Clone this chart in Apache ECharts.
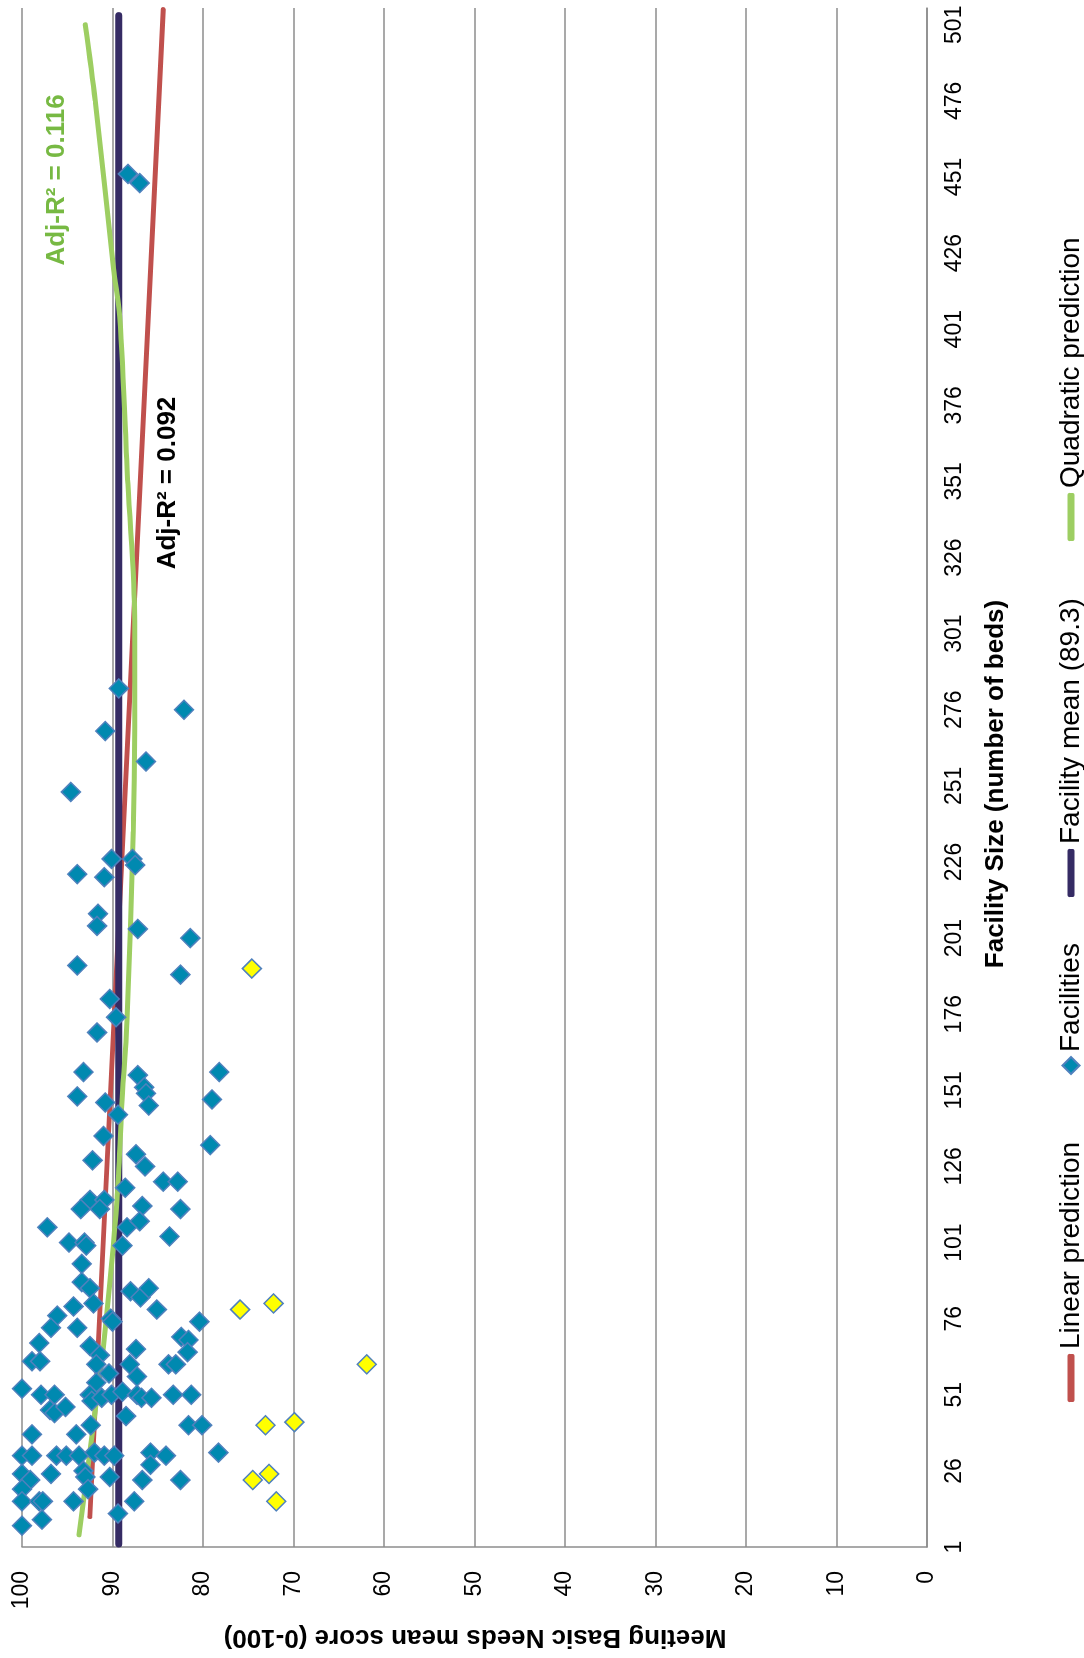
<!DOCTYPE html>
<html>
<head>
<meta charset="utf-8">
<script src="https://cdn.jsdelivr.net/npm/echarts@6/dist/echarts.min.js"></script>
<style>
html,body{margin:0;padding:0;background:#fff;overflow:hidden;width:1084px;height:1658px;}
#wrap{position:absolute;left:0;top:0;width:1658px;height:1084px;transform-origin:0 0;transform:translate(0px,1658px) rotate(-90deg);}
</style>
</head>
<body>
<div id="wrap"></div>
<script>
// ---- data ----
const bedTicks = [1, 26, 51, 76, 101, 126, 151, 176, 201, 226, 251, 276, 301, 326, 351, 376, 401, 426, 451, 476, 501];
const scoreTicks = [0, 10, 20, 30, 40, 50, 60, 70, 80, 90, 100];

const facilityBeds = [452, 449, 283, 276, 269, 259, 249,
  227, 227, 225, 222, 221, 209, 205, 204, 201, 192, 189, 181, 175,
  170, 157, 156, 157, 152, 150, 149, 148, 147, 146, 143, 136, 133, 128, 130, 126, 121, 121, 119, 115, 115,
  112, 112, 113, 112, 106, 106, 108, 103, 101, 101, 100, 100, 94, 88, 86, 85, 83, 86, 80, 81, 79, 77, 73, 76, 75, 75, 73, 68, 70, 69, 67, 64, 66, 65, 62, 62, 61, 61, 61, 61, 58, 57,
  55, 53, 51, 51, 51, 49, 50, 51, 52, 51, 50, 50, 51, 51, 46, 45, 47, 44, 41, 41, 41, 38, 38,
  31, 31, 31, 31, 31, 32, 31, 31, 32, 31, 32, 28, 25, 23, 25, 26, 24, 24, 23, 23, 20, 20, 16, 16, 16, 16, 16, 10, 12, 8];
const facilityScores = [88.3, 87.0, 89.3, 82.1, 90.8, 86.3, 94.6,
  90.1, 87.8, 87.5, 93.9, 90.9, 91.6, 91.7, 87.2, 81.4, 93.9, 82.5, 90.3, 89.6,
  91.7, 93.2, 87.2, 78.2, 86.5, 86.3, 93.9, 79.0, 90.8, 86.0, 89.4, 91.0, 79.2, 92.2, 87.4, 86.4, 84.4, 82.8, 88.6, 92.5, 90.9,
  93.5, 91.4, 86.7, 82.5, 97.2, 88.4, 87.0, 83.7, 94.8, 93.1, 92.9, 88.9, 93.4, 93.4, 92.5, 88.0, 86.9, 86.0, 94.3, 92.1, 85.1, 96.1, 96.8, 90.2, 90.0, 80.4, 93.9, 98.1, 82.4, 81.6, 92.5, 91.4, 87.4, 81.7, 98.9, 98.0, 91.8, 88.1, 83.8, 83.0, 90.4, 87.3,
  91.8, 100, 97.9, 96.4, 92.5, 92.3, 91.2, 90.1, 88.9, 87.3, 86.8, 85.7, 83.3, 81.3, 96.9, 96.4, 95.2, 88.5, 92.4, 81.6, 80.1, 98.9, 94.0,
  100, 98.9, 96.2, 95.1, 93.7, 92.0, 90.9, 89.8, 85.8, 84.1, 78.3, 85.8, 100, 99.1, 96.8, 93.2, 93.0, 90.3, 86.7, 82.5, 100, 92.7, 100, 98.1, 97.7, 94.3, 87.6, 97.8, 89.4, 100];

const highlightBeds = [191, 79, 81, 61, 41, 42, 23, 25, 16];
const highlightScores = [74.6, 75.9, 72.2, 61.9, 73.1, 69.9, 74.5, 72.7, 71.9];

const linearBeds = [11, 506];
const linearScores = [92.5, 84.4];

const meanBeds = [2, 504];
const meanScores = [89.3, 89.3];

const quadBeds = [5, 46, 67, 115, 145, 174, 236, 270, 305, 350, 405, 421, 476, 501];
const quadScores = [93.7, 91.9, 91.0, 89.5, 89.0, 88.4, 87.7, 87.55, 87.55, 88.3, 89.2, 89.9, 91.9, 93.0];

// ---- build ----
const pairs = (xs, ys) => xs.map((x, i) => [x, ys[i]]);
const FONT = '"Liberation Sans", Arial, sans-serif';
const C_RED = '#C0504D', C_NAVY = '#352B64', C_GREEN = '#9DCE62', C_BLUE = '#0089B0', C_EDGE = '#4F81BD';

const chart = echarts.init(document.getElementById('wrap'), null, {width: 1658, height: 1084});
const legendBase = {
  top: 1052, orient: 'horizontal', selectedMode: false, itemGap: 0,
  textStyle: {fontSize: 28, color: '#000', fontFamily: FONT}
};
chart.setOption({
  animation: false,
  backgroundColor: '#fff',
  grid: {left: 111, right: 8, top: 22, bottom: 157, containLabel: false},
  xAxis: {
    type: 'value', min: 1, max: 506.5,
    splitLine: {show: false},
    axisLine: {show: true, lineStyle: {color: '#8C8C8C', width: 1.5}},
    axisTick: {show: false},
    axisLabel: {customValues: bedTicks, fontSize: 23, color: '#000', fontFamily: FONT, margin: 16}
  },
  yAxis: {
    type: 'value', min: 0, max: 100, interval: 10,
    splitLine: {show: true, lineStyle: {color: '#8C8C8C', width: 1.5}},
    axisLine: {show: true, lineStyle: {color: '#8C8C8C', width: 1.5}},
    axisTick: {show: false},
    axisLabel: {fontSize: 23, color: '#000', fontFamily: FONT, margin: 24,
      formatter: v => scoreTicks.includes(v) ? String(v) : ''}
  },
  legend: [
    Object.assign({}, legendBase, {left: 251, itemWidth: 48, itemHeight: 7, data: [{name: 'Linear prediction', icon: 'roundRect'}]}),
    Object.assign({}, legendBase, {left: 578, itemWidth: 17, itemHeight: 17, data: [{name: 'Facilities', icon: 'diamond'}]}),
    Object.assign({}, legendBase, {left: 756, itemWidth: 48, itemHeight: 7, data: [{name: 'Facility mean (89.3)', icon: 'roundRect'}]}),
    Object.assign({}, legendBase, {left: 1112, itemWidth: 48, itemHeight: 7, data: [{name: 'Quadratic prediction', icon: 'roundRect'}]})
  ],
  graphic: [
    {type: 'text', x: 21, y: 475, rotation: Math.PI / 2,
      style: {text: 'Meeting Basic Needs mean score (0-100)', font: 'bold 26px ' + FONT, fill: '#000', align: 'center', verticalAlign: 'middle'}},
    {type: 'text', x: 874, y: 996,
      style: {text: 'Facility Size (number of beds)', font: 'bold 26px ' + FONT, fill: '#000', align: 'center', verticalAlign: 'middle'}},
    {type: 'text', x: 1478, y: 57,
      style: {text: 'Adj-R² = 0.116', font: 'bold 26px ' + FONT, fill: '#77B943', align: 'center', verticalAlign: 'middle'}},
    {type: 'text', x: 1175, y: 168,
      style: {text: 'Adj-R² = 0.092', font: 'bold 26px ' + FONT, fill: '#000', align: 'center', verticalAlign: 'middle'}}
  ],
  series: [
    {name: 'Linear prediction', type: 'line', data: pairs(linearBeds, linearScores), showSymbol: false, symbol: 'none', z: 2,
      color: C_RED, lineStyle: {color: C_RED, width: 5, cap: 'round'}},
    {name: 'Facilities', type: 'scatter', data: pairs(facilityBeds, facilityScores), symbol: 'diamond', symbolSize: 19, z: 4,
      color: C_BLUE, itemStyle: {color: C_BLUE, borderColor: C_EDGE, borderWidth: 1.5, opacity: 1}},
    {name: 'Facilities (highlighted)', type: 'scatter', data: pairs(highlightBeds, highlightScores), symbol: 'diamond', symbolSize: 19, z: 4,
      itemStyle: {color: '#FFFF00', borderColor: C_EDGE, borderWidth: 1.5, opacity: 1}},
    {name: 'Facility mean (89.3)', type: 'line', data: pairs(meanBeds, meanScores), showSymbol: false, symbol: 'none', z: 2,
      color: C_NAVY, lineStyle: {color: C_NAVY, width: 7, cap: 'round'}},
    {name: 'Quadratic prediction', type: 'line', data: pairs(quadBeds, quadScores), showSymbol: false, symbol: 'none', smooth: 0.35, z: 2,
      color: C_GREEN, lineStyle: {color: C_GREEN, width: 5, cap: 'round'}}
  ]
});
</script>
</body>
</html>
